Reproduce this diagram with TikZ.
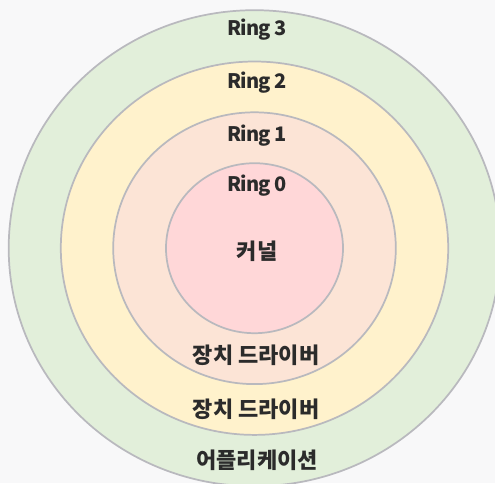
\documentclass[tikz,border=0pt]{standalone}
\usepackage{fontspec}
\setmainfont{Noto Sans CJK KR}
\newfontfamily\ringfont[LetterSpace=-5]{Noto Sans CJK KR}
\usetikzlibrary{positioning}
\definecolor{bgc}{HTML}{F8F8F9}
\definecolor{ringline}{HTML}{B9B9BE}
\definecolor{ringthree}{HTML}{E2EFDA}
\definecolor{ringtwo}{HTML}{FFF2CC}
\definecolor{ringone}{HTML}{FCE4D6}
\definecolor{ringzero}{HTML}{FFD7D8}
\definecolor{txt}{HTML}{2B2B2B}
\tikzset{
  ring/.style={draw=ringline, line width=1.3pt},
  lbl/.style={font=\fontsize{15}{17}\ringfont\bfseries, text=txt, inner sep=0pt, anchor=base},
  klbl/.style={font=\fontsize{16.5}{18}\selectfont\bfseries, text=txt, inner sep=0pt, anchor=center},
}
\begin{document}
\begin{tikzpicture}[x=0.75pt,y=-0.75pt]
\useasboundingbox (0,0) rectangle (495,483);
\fill[bgc] (0,0) rectangle (495,483);
\begin{scope}
\clip (0,0) rectangle (495,483);
\draw[ring, fill=ringthree] (254.5,248.2) ellipse [x radius=245.8, y radius=238];
\draw[ring, fill=ringtwo] (254.5,248.2) ellipse [x radius=193.7, y radius=186.7];
\draw[ring, fill=ringone] (254.5,248.2) ellipse [x radius=141.3, y radius=135.9];
\draw[ring, fill=ringzero] (254.5,248.2) ellipse [x radius=88.5, y radius=85];
\end{scope}
\node[lbl] (r3) at (257,35) {Ring 3};
\node[lbl] (r2) at (257,88) {Ring 2};
\node[lbl] (r1) at (257,141) {Ring 1};
\node[lbl] (r0) at (257,191) {Ring 0};
\node[klbl] (kernel) at (257,251) {커널};
\node[klbl] (drv1) at (256,355) {장치 드라이버};
\node[klbl] (drv2) at (256,409) {장치 드라이버};
\node[klbl] (app) at (257,460) {어플리케이션};
\end{tikzpicture}
\end{document}
